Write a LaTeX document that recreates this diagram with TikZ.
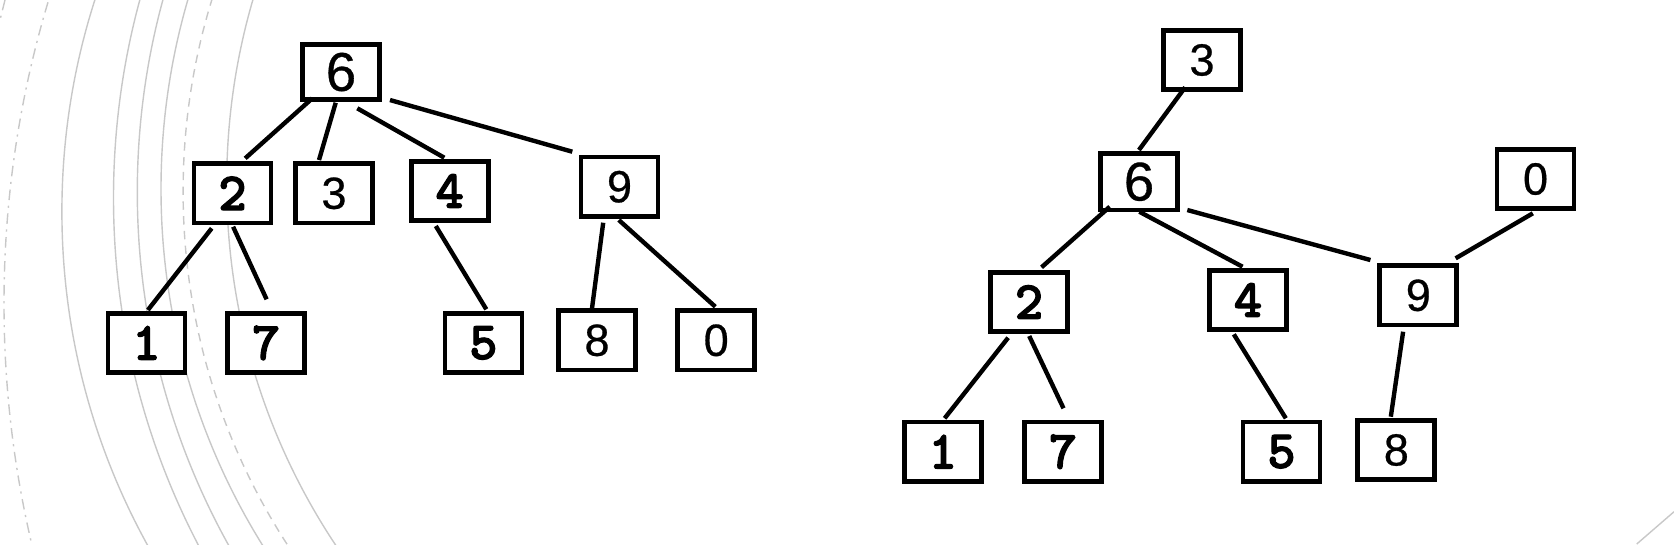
\documentclass[tikz,border=0pt]{standalone}
\usepackage{fontspec}
\usetikzlibrary{calc}
\newfontfamily\sansdig{Liberation Sans}[FakeBold=0.6]
\newfontfamily\ttdig{lmmonolt10-bold.otf}[FakeBold=2.2]
\definecolor{arcgray}{RGB}{200,200,200}
\tikzset{
  bx/.style={draw, line width=1.35pt, inner sep=0pt, minimum width=0.77cm, minimum height=0.595cm, fill=white},
  bigbx/.style={bx, minimum height=0.555cm},
  md/.style={font=\ttdig\fontsize{15.3}{15.3}\selectfont},
  sd/.style={font=\sansdig\fontsize{12.8}{13}\selectfont},
  bd/.style={font=\sansdig\fontsize{15.5}{15.5}\selectfont},
  edge/.style={line width=1.25pt},
  bgarc/.style={draw=arcgray, line width=0.4pt},
  dashdot/.style={bgarc, dash pattern=on 3pt off 1.6pt on 0.6pt off 1.6pt},
  dashline/.style={bgarc, dash pattern=on 2.4pt off 1.8pt}
}
\begin{document}
\begin{tikzpicture}[x=0.01cm, y=-0.01cm]
\useasboundingbox (0,0) rectangle (1674,544);
% background decoration arcs
\begin{scope}
\clip (0,0) rectangle (420,544);
\draw[dashdot] (1051.7,303.6) circle (1047.7);
\draw[bgarc] (753.5,211.5) circle (691.6);
\draw[bgarc] (865.2,197.8) circle (751.7);
\draw[bgarc] (865.3,191.9) circle (728.0);
\draw[bgarc] (836.1,188.9) circle (675.1);
\draw[dashline] (832.9,191.5) circle (649.8);
\draw[bgarc] (880.4,183.6) circle (653.7);
\end{scope}
\coordinate (tl1) at (5,0);
\coordinate (tl2) at (0,20);
\draw[dashdot] (tl1) -- (tl2);
\coordinate (br1) at (1674,511.7);
\coordinate (br2) at (1636.7,544);
\draw[bgarc] (br1) -- (br2);

% left tree
\node[bigbx, bd] (L6) at (341,72) {6};
\node[bx, md] (L2) at (232.5,193.3) {2};
\node[bx, sd] (L3) at (334,193.3) {3};
\node[bx, md] (L4) at (449.7,190.9) {4};
\node[bx, sd] (L9) at (619.5,186.7) {9};
\node[bx, md] (L1) at (146.5,342.9) {1};
\node[bx, md] (L7) at (266.2,342.9) {7};
\node[bx, md] (L5) at (483.4,342.9) {5};
\node[bx, sd] (L8) at (597,340.3) {8};
\node[bx, sd] (L0) at (716.2,340.3) {0};

\draw[edge] ($(L6)+(-28.7,26.3)$) -- ($(L2)+(12.7,-35)$);
\draw[edge] ($(L6)+(-5.3,30.7)$) -- ($(L3)+(-15,-33.3)$);
\draw[edge] ($(L6)+(16.3,36.3)$) -- ($(L4)+(-5.4,-33.2)$);
\draw[edge] ($(L6)+(49,28)$) -- ($(L9)+(-47.2,-35)$);
\draw[edge] ($(L2)+(-20.8,35)$) -- ($(L1)+(1.4,-32.9)$);
\draw[edge] ($(L2)+(0.6,33.4)$) -- ($(L7)+(0.4,-43.6)$);
\draw[edge] ($(L4)+(-13.9,35.1)$) -- ($(L5)+(2.9,-33.6)$);
\draw[edge] ($(L9)+(-16.3,36)$) -- ($(L8)+(-5,-32)$);
\draw[edge] ($(L9)+(-0.7,33.3)$) -- ($(L0)+(-0.9,-33.6)$);

% right tree
\node[bx, sd] (R3) at (1202,60) {3};
\node[bigbx, bd, minimum height=0.565cm] (R6) at (1139,181.7) {6};
\node[bx, sd] (R0) at (1535.5,179) {0};
\node[bx, md] (R2) at (1029,302) {2};
\node[bx, md] (R4) at (1248,300) {4};
\node[bx, sd] (R9) at (1418.3,295.3) {9};
\node[bx, md] (R1) at (942.8,451.7) {1};
\node[bx, md] (R7) at (1063,451.7) {7};
\node[bx, md] (R5) at (1281.5,451.7) {5};
\node[bx, sd] (R8) at (1396.3,450) {8};

\draw[edge] ($(R3)+(-16.9,27.3)$) -- ($(R6)+(-0.1,-31.7)$);
\draw[edge] ($(R6)+(-29.3,25)$) -- ($(R2)+(12.5,-34.7)$);
\draw[edge] ($(R6)+(0.3,30)$) -- ($(R4)+(-5.5,-33.3)$);
\draw[edge] ($(R6)+(48.3,28.3)$) -- ($(R9)+(-47.9,-35.3)$);
\draw[edge] ($(R0)+(-2.7,34.3)$) -- ($(R9)+(37.3,-37)$);
\draw[edge] ($(R2)+(-20.9,35.7)$) -- ($(R1)+(1.8,-33.4)$);
\draw[edge] ($(R2)+(0.2,34)$) -- ($(R7)+(0.5,-43.4)$);
\draw[edge] ($(R4)+(-14.2,34.3)$) -- ($(R5)+(4.3,-33.4)$);
\draw[edge] ($(R9)+(-15.2,36.4)$) -- ($(R8)+(-5.5,-33.3)$);
\end{tikzpicture}
\end{document}
